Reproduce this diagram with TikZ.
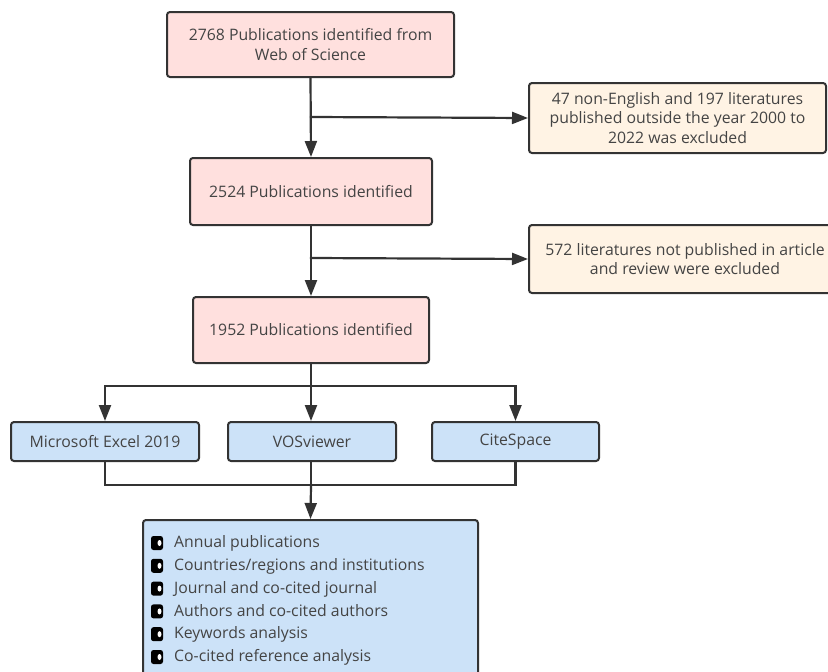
\documentclass[tikz,border=0pt]{standalone}
\usepackage{fontspec}
\setmainfont{Open Sans}
\usetikzlibrary{arrows.meta}
\begin{document}
\begin{tikzpicture}[x=1pt,y=-1pt,line cap=rect,
  box/.style={draw=custcol_33_33_33, line width=2pt, rounded corners=3pt, line cap=butt, text=custcol_44_44_44, inner sep=0, align=center, font=\fontsize{15.8pt}{19.5pt}\selectfont},
  link/.style={draw=custcol_33_33_33, line width=2.2pt},
  flow/.style={link, -{Triangle[length=16pt,width=12pt]}},
  item/.style={inner sep=0, anchor=west, text height=11pt, text depth=3.5pt, text=custcol_44_44_44, font=\fontsize{15.8pt}{15.8pt}\selectfont}]
\definecolor{custcol_33_33_33}{RGB}{51, 51, 51}
\definecolor{custcol_44_44_44}{RGB}{68, 68, 68}
\definecolor{custcol_pink}{RGB}{255, 224, 222}
\definecolor{custcol_cream}{RGB}{255, 243, 228}
\definecolor{custcol_blue}{RGB}{204, 226, 248}
\useasboundingbox (0,0) rectangle (828,672);
\clip (0,0) rectangle (828,672);
% main chain
\node[box, fill=custcol_pink, minimum width=287pt, minimum height=65pt] (wos) at (310.5,44.5) {2768 Publications identified from\\Web of Science};
\node[box, fill=custcol_pink, minimum width=242pt, minimum height=67pt] (pub2524) at (311,191.5) {2524 Publications identified};
\node[box, fill=custcol_pink, minimum width=236pt, minimum height=66pt] (pub1952) at (311,330) {1952 Publications identified};
% exclusions
\node[box, fill=custcol_cream, minimum width=297pt, minimum height=70pt] (excl1) at (677.5,118) {47 non-English and 197 literatures\\published outside the year 2000 to\\2022 was excluded};
\node[box, fill=custcol_cream, minimum width=312pt, minimum height=68pt] (excl2) at (685,259) {572 literatures not published in article\\and review were excluded};
% tools
\node[box, fill=custcol_blue, minimum width=188pt, minimum height=39pt] (excel) at (105,441.5) {Microsoft Excel 2019};
\node[box, fill=custcol_blue, minimum width=168pt, minimum height=39pt] (vos) at (312,441.5) {VOSviewer};
\node[box, fill=custcol_blue, minimum width=167pt, minimum height=39pt] (cite) at (515.5,441.5) {CiteSpace};
% analyses
\node[box, fill=custcol_blue, minimum width=335pt, minimum height=175pt] (analysis) at (310.5,607.5) {};
\foreach \txt [count=\i from 0] in {Annual publications, Countries/regions and institutions, Journal and co-cited journal, Authors and co-cited authors, Keywords analysis, Co-cited reference analysis} {
  \fill[black, rounded corners=2.5pt] (151,536+22.8*\i) rectangle (163,550+22.8*\i);
  \fill[white] (159.5,543+22.8*\i) ellipse (2 and 3);
  \node[item] (item\i) at (174,544+22.8*\i) {\txt};
}
\coordinate (cut1) at (311,117);
\coordinate (cut2) at (311,258);
\coordinate (split) at (311,386);
\coordinate (merge) at (311,485);
\draw[flow] (wos.south) -- (pub2524.north);
\draw[flow] (cut1) -- (excl1.west);
\draw[flow] (pub2524.south) -- (pub1952.north);
\draw[flow] (cut2) -- (excl2.west);
\draw[link] (pub1952.south) -- (split);
\draw[flow] (split) -| (excel.north);
\draw[flow] (split) -- (split |- vos.north);
\draw[flow] (split) -| (cite.north);
\draw[link] (excel.south) |- (merge);
\draw[link] (cite.south) |- (merge);
\draw[link] (merge |- vos.south) -- (merge);
\draw[flow] (merge) -- (analysis.north);
\end{tikzpicture}
\end{document}
